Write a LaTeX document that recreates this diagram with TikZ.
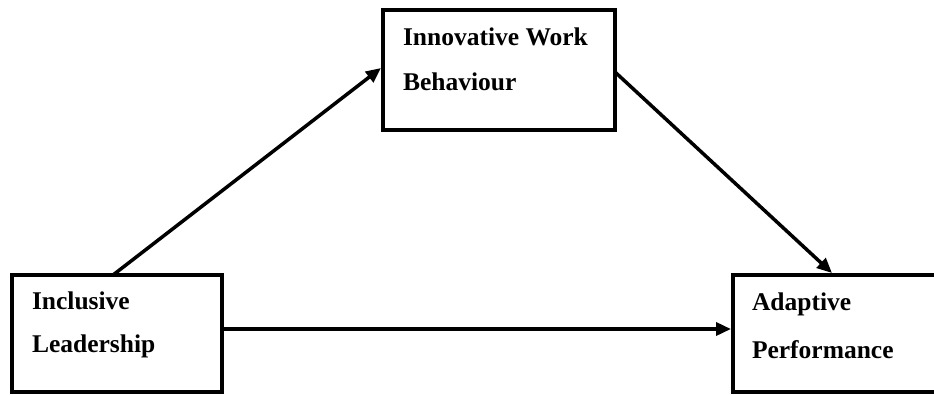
\documentclass[tikz,border=0pt]{standalone}
\usepackage{fontspec}
\setmainfont{Liberation Serif}
\usetikzlibrary{arrows.meta,calc}
\tikzset{
  boxnode/.style={draw=black,line width=4pt,inner sep=0pt,outer sep=0pt,anchor=north west},
  lbl/.style={font=\fontsize{25.5}{30}\selectfont\bfseries,anchor=base west,inner sep=0pt,outer sep=0pt},
  conn/.style={draw=black,line width=3.5pt,-{Triangle[length=15pt,width=13pt]}},
}
\begin{document}
\begin{tikzpicture}[x=1pt,y=-1pt]
\useasboundingbox (0,0) rectangle (934,394);
\fill[white] (0,0) rectangle (934,394);
\clip (0,0) rectangle (934,394);
% boxes
\node[boxnode,minimum width=232pt,minimum height=120pt] (tb) at (383,10) {};
\node[boxnode,minimum width=210pt,minimum height=116.5pt] (lb) at (12,275) {};
\node[boxnode,minimum width=240pt,minimum height=117pt] (rb) at (733,275) {};
% labels
\node[lbl] (t1) at (403,45) {Innovative Work};
\node[lbl] (t2) at (403,90) {Behaviour};
\node[lbl] (l1) at (32,309) {Inclusive};
\node[lbl] (l2) at (32,352) {Leadership};
\node[lbl] (r1) at (752,310) {Adaptive};
\node[lbl] (r2) at (752,358) {Performance};
% connectors
\coordinate (a1s) at ($(lb.north west)+(101,0)$);
\coordinate (a1e) at ($(tb.north west)+(-2,58)$);
\coordinate (a2s) at ($(tb.north east)+(0,62)$);
\coordinate (a2e) at ($(rb.north west)+(99,-2)$);
\coordinate (a3s) at ($(lb.north east)+(0,54)$);
\coordinate (a3e) at ($(a3s -| rb.west)+(-2,0)$);
\draw[conn] (a1s) -- (a1e);
\draw[conn] (a2s) -- (a2e);
\draw[conn] (a3s) -- (a3e);
\end{tikzpicture}
\end{document}
